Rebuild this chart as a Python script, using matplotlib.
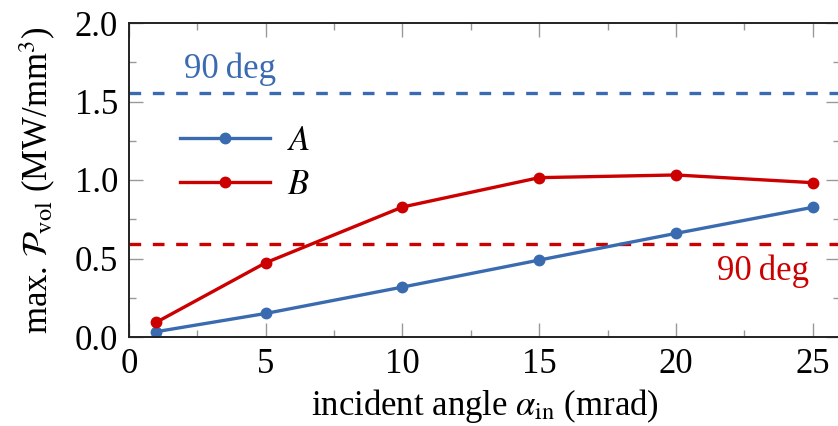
import matplotlib
matplotlib.use("Agg")
import matplotlib.pyplot as plt
from matplotlib.ticker import MultipleLocator

plt.rcParams['font.family'] = ['Liberation Serif', 'DejaVu Serif']
plt.rcParams['mathtext.fontset'] = 'stix'

angles = [1, 5, 10, 15, 20, 25]
series_A = [0.034, 0.15, 0.318, 0.49, 0.66, 0.826]
series_B = [0.094, 0.473, 0.828, 1.015, 1.032, 0.983]
ref_A = 1.552
ref_B = 0.592
xticks = [0, 5, 10, 15, 20, 25]
yticks = [0.0, 0.5, 1.0, 1.5, 2.0]

blue = '#3A6BB0'
red = '#CC0000'
FS = 25

fig = plt.figure(figsize=(8.38, 4.26), dpi=100)
ax = fig.add_axes([129/838, 1 - 337/426, (840 - 129)/838, (337 - 23)/426])

ax.axhline(ref_A, color=blue, lw=2.4, ls=(0, (3.5, 3.5)))
ax.axhline(ref_B, color=red, lw=2.4, ls=(0, (3.5, 3.5)))
ax.plot(angles, series_A, color=blue, lw=2.4, marker='o', ms=7.5, label='$A$')
ax.plot(angles, series_B, color=red, lw=2.4, marker='o', ms=7.5, label='$B$')

ax.text(3.68, 1.705, '90\u2009deg', color=blue, fontsize=FS, ha='center', va='center')
ax.text(23.2, 0.42, '90\u2009deg', color=red, fontsize=FS, ha='center', va='center')

ax.set_xlim(0, 26)
ax.set_ylim(0, 2.0)
ax.set_xticks(xticks)
ax.set_yticks(yticks)
ax.set_yticklabels([f'{v:.1f}' for v in yticks])
ax.xaxis.set_minor_locator(MultipleLocator(2.5))
ax.yaxis.set_minor_locator(MultipleLocator(0.25))
ax.tick_params(which='both', direction='in', top=True, right=True, color='#999999',
               labelsize=FS, width=1.0)
ax.tick_params(which='major', length=10, pad=8)
ax.tick_params(which='minor', length=5)
for s in ax.spines.values():
    s.set_linewidth(1.4)
    s.set_color('#222222')

ax.set_xlabel(r'incident angle $\alpha_\mathrm{in}$ (mrad)', fontsize=FS, labelpad=4)
ax.set_ylabel(r'max. $\mathcal{P}_\mathrm{vol}$ (MW/mm$^3$)', fontsize=FS, labelpad=12)

leg = ax.legend(loc='upper left', bbox_to_anchor=(0.052, 0.718), frameon=False,
                fontsize=FS, handlelength=2.6, handletextpad=0.5, labelspacing=0.3,
                borderaxespad=0)

fig.savefig('out.png', dpi=100)
